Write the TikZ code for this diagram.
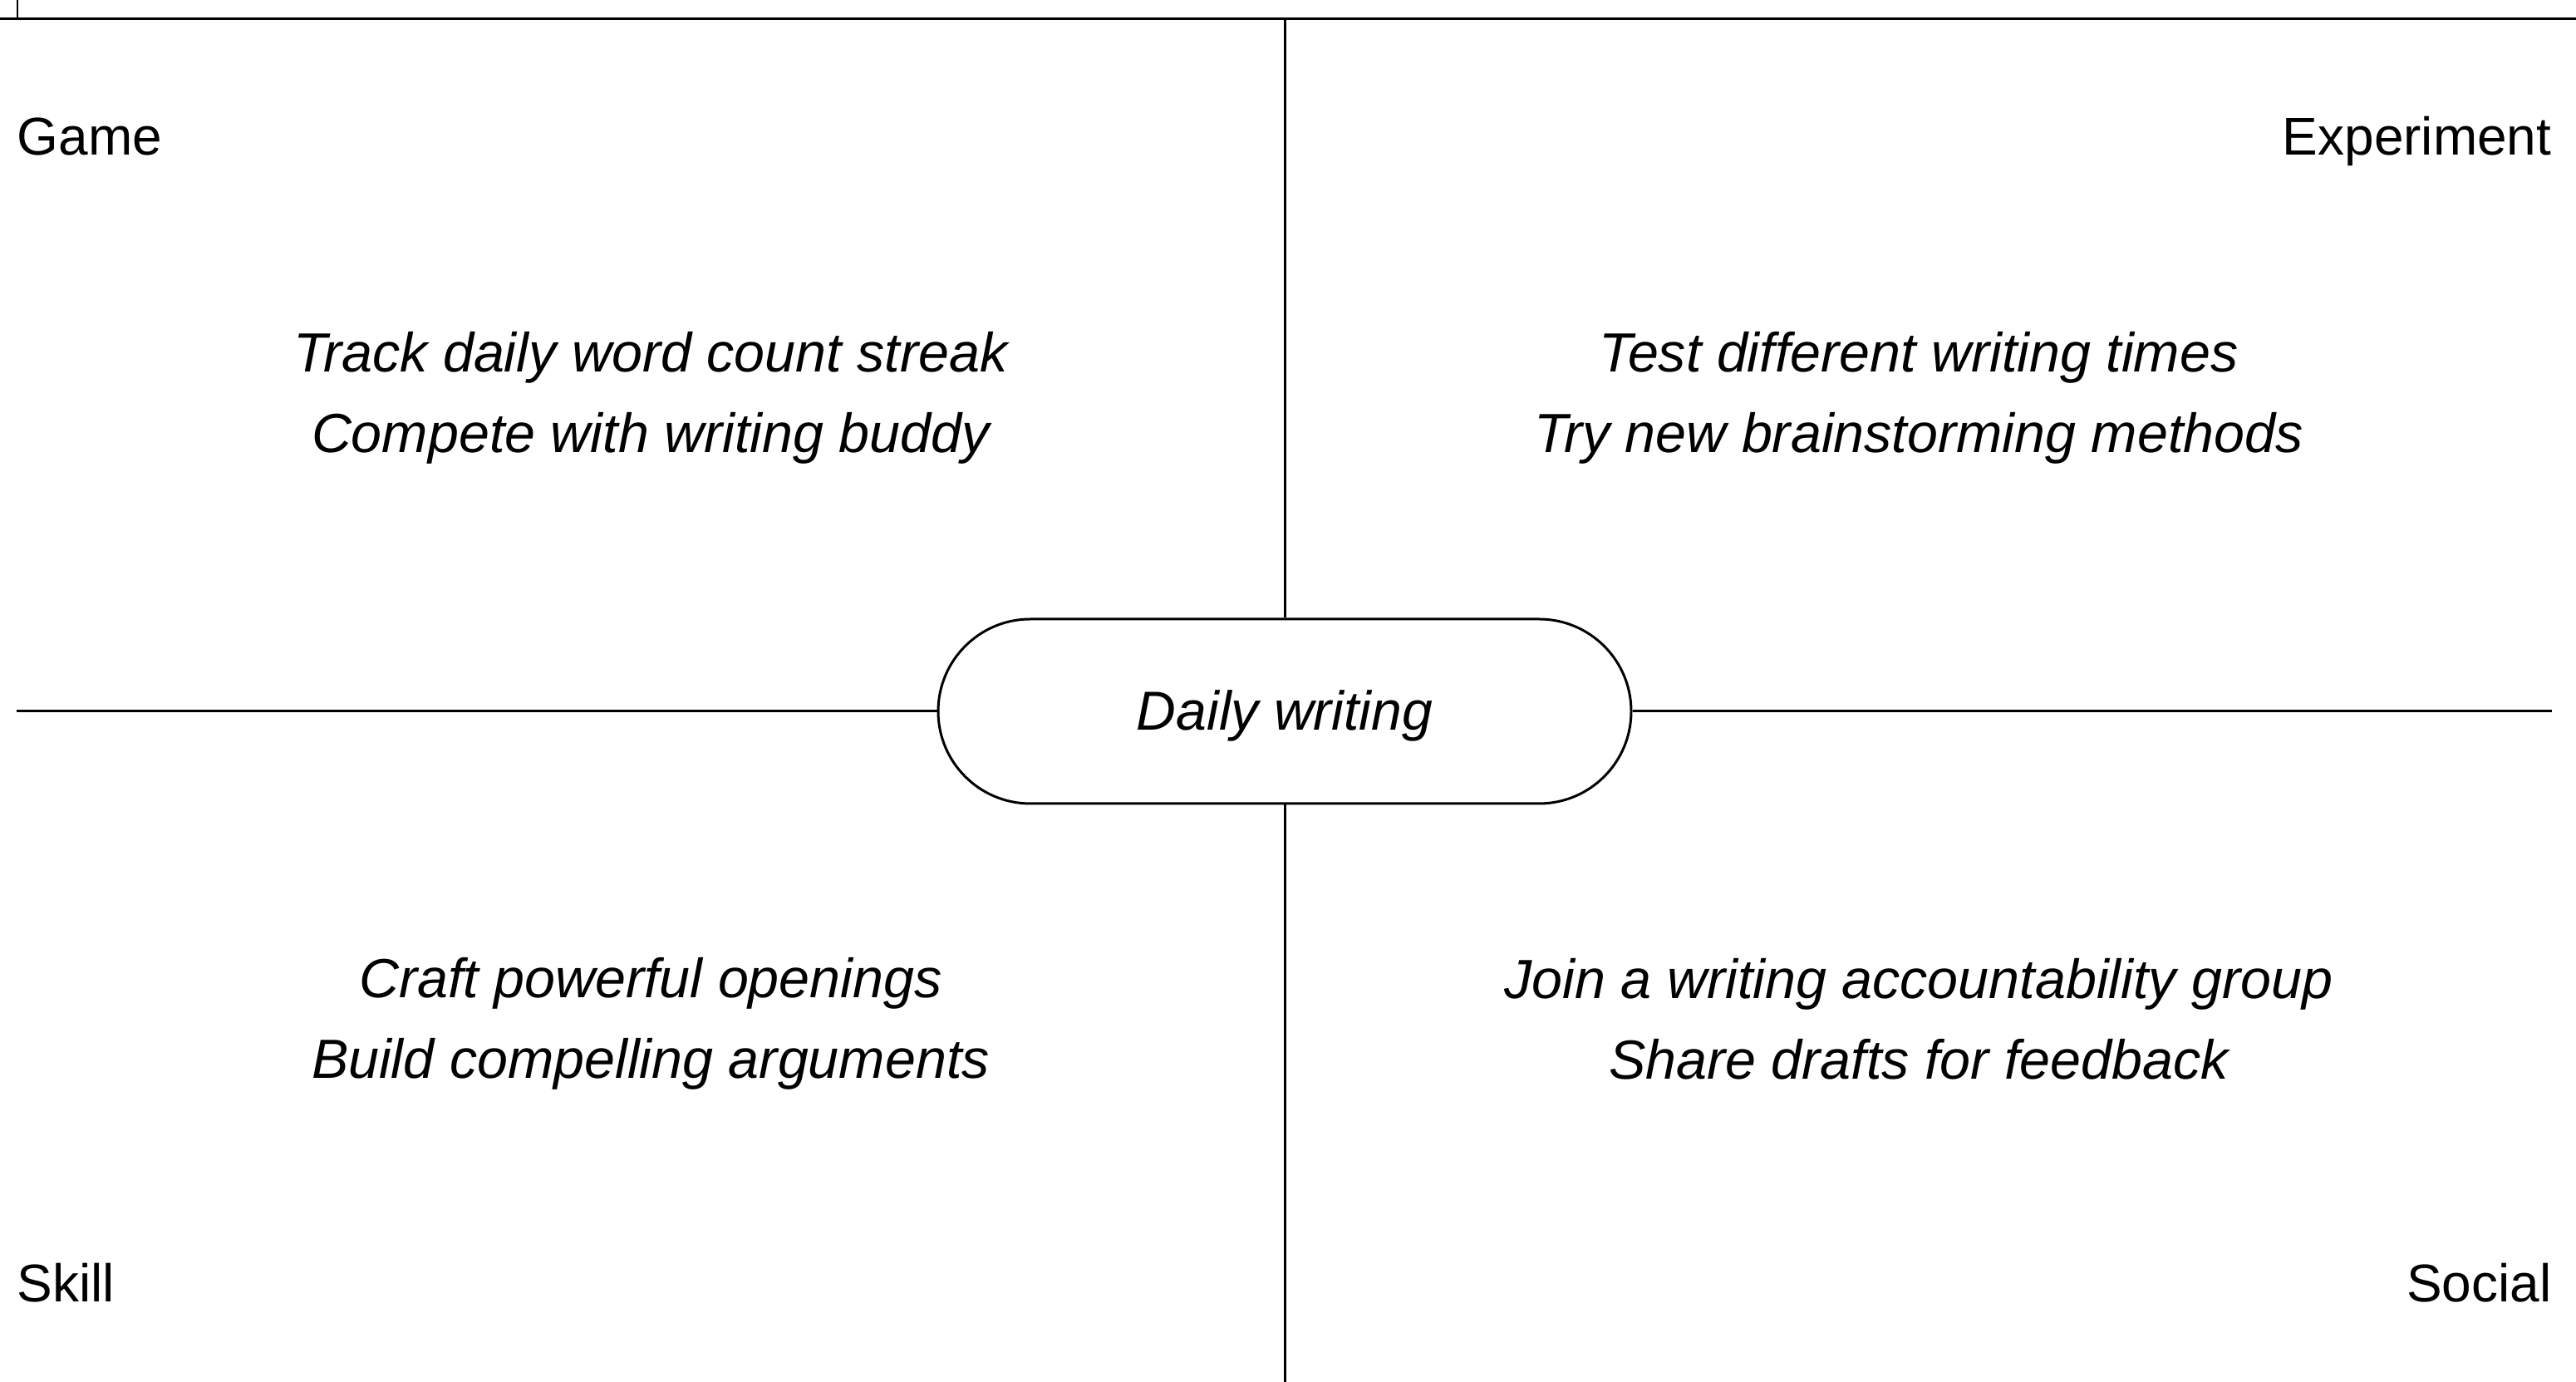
\documentclass[tikz,border=0pt]{standalone}
\usepackage{fontspec}
\setmainfont{Liberation Sans}
\tikzset{
  axis/.style={line width=0.85pt},
  corner/.style={font=\fontsize{18.2}{22}\selectfont, inner sep=0pt},
  idea/.style={font=\fontsize{18.9}{27.5}\selectfont\itshape, align=center, inner sep=0pt},
  hub/.style={draw, line width=0.85pt, rounded corners=1.11cm, minimum width=8.34cm, minimum height=2.22cm, text height=17pt, text depth=4pt, font=\fontsize{18.8}{22}\selectfont\itshape}
}
\begin{document}
\begin{tikzpicture}
			\useasboundingbox (0,0) rectangle (31,16.63);
			% frame at the top
			\coordinate (tl) at (0,16.40);
			\coordinate (tr) at (31,16.40);
			\coordinate (tick) at (0.21,16.63);
			\coordinate (tickfoot) at (0.21,16.40);
			\draw[axis] (tl) -- (tr);
			\draw[axis] (tick) -- (tickfoot);
			% centre and the four arms
			\node[hub] (hub) at (15.46,8.07) {Daily writing};
			\coordinate (top) at (15.46,16.40);
			\coordinate (bottom) at (15.46,0);
			\coordinate (left) at (0.20,8.07);
			\coordinate (right) at (30.71,8.07);
			\draw[axis] (top) -- (hub.north) (hub.south) -- (bottom);
			\draw[axis] (left) -- (hub.west) (hub.east) -- (right);
			% quadrant names
			\node[corner, anchor=base west] (game) at (0.20,14.76) {Game};
			\node[corner, anchor=base east] (experiment) at (30.71,14.76) {Experiment};
			\node[corner, anchor=base west] (skill) at (0.20,0.96) {Skill};
			\node[corner, anchor=base east] (social) at (30.71,0.96) {Social};
			% ideas in each quadrant
			\node[idea] (gameideas) at (7.83,11.84) {Track daily word count streak\\Compete with writing buddy};
			\node[idea] (experimentideas) at (23.09,11.84) {Test different writing times\\Try new brainstorming methods};
			\node[idea] (skillideas) at (7.83,4.31) {Craft powerful openings\\Build compelling arguments};
			\node[idea] (socialideas) at (23.09,4.37) {Join a writing accountability group\\Share drafts for feedback};
		\end{tikzpicture}
\end{document}
